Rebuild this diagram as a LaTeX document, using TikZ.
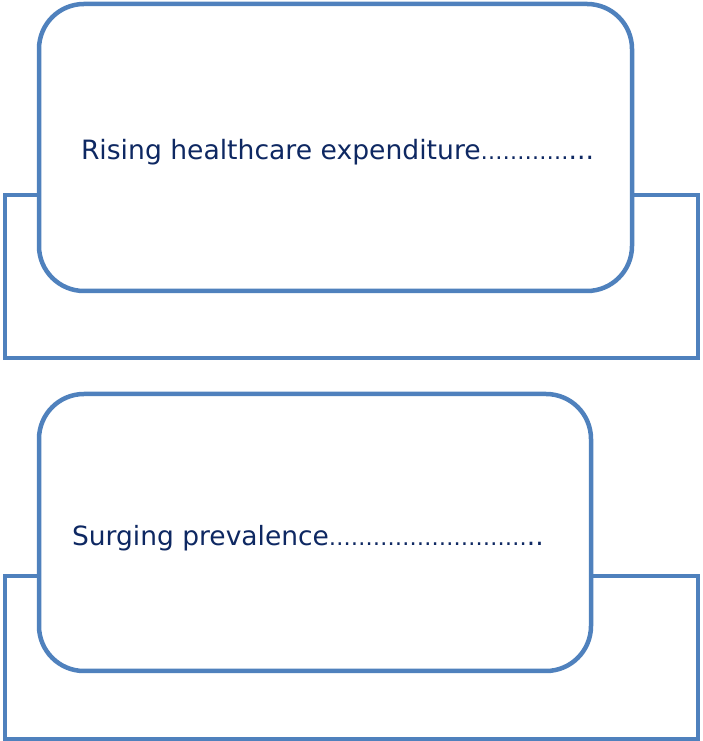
\documentclass[tikz,border=0pt]{standalone}
\usepackage{fontspec}
\setmainfont{DejaVu Sans}
\definecolor{lineblue}{HTML}{4F81BD}
\definecolor{textnavy}{RGB}{14,40,98}
\begin{document}
\begin{tikzpicture}[x=1pt,y=1pt,
  backbox/.style={draw=lineblue,line width=4.5pt,rectangle,inner sep=0pt,outer sep=0pt,fill=white},
  frontbox/.style={draw=lineblue,line width=4.5pt,rectangle,rounded corners=45pt,inner sep=0pt,outer sep=0pt,fill=white},
  label text/.style={inner sep=0pt,outer sep=0pt,anchor=base west,text=textnavy}]
\useasboundingbox (0,0) rectangle (702,741);
\node[backbox,minimum width=693pt,minimum height=163pt] (rectA) at (351.5,464.5) {};
\node[frontbox,minimum width=593pt,minimum height=287pt] (boxA) at (335.5,593.5) {};
\node[backbox,minimum width=693pt,minimum height=163pt] (rectB) at (351.5,83.5) {};
\node[frontbox,minimum width=552pt,minimum height=277pt] (boxB) at (315,208.5) {};
\node[label text,font=\fontsize{26.6}{32}\selectfont] (textA) at (81,581.5)
  {Rising healthcare expenditure{\fontsize{22}{26}\selectfont …………}...};
\node[label text,font=\fontsize{26.5}{32}\selectfont] (textB) at (72,195)
  {Surging prevalence{\fontsize{22}{26}\selectfont ………………………}..};
\end{tikzpicture}
\end{document}
